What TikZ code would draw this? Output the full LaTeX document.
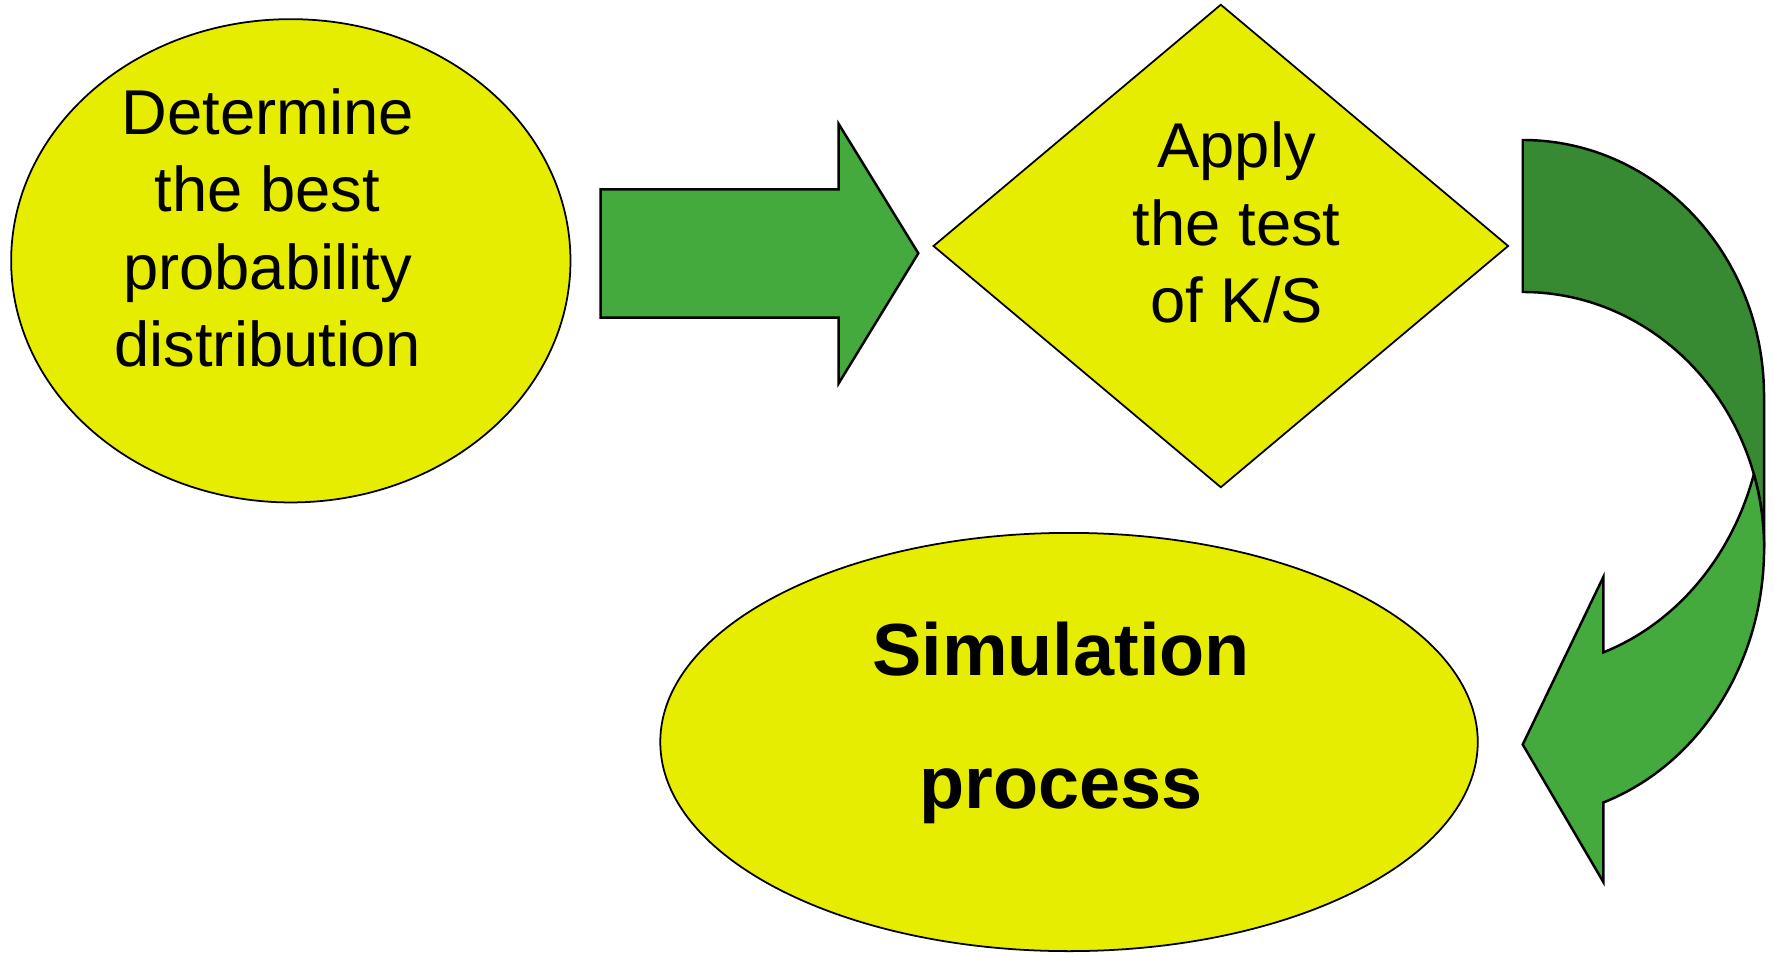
\documentclass[tikz,border=0pt]{standalone}
\usepackage{fontspec}
\setmainfont{Liberation Sans}
\usetikzlibrary{shapes.geometric}
\definecolor{blobyellow}{RGB}{230,237,0}
\definecolor{arrowgreen}{RGB}{69,170,61}
\definecolor{arrowdark}{RGB}{55,137,50}

\begin{document}
\begin{tikzpicture}[x=0.01cm,y=-0.01cm,
    blob/.style={ellipse,draw,line width=0.5pt,fill=blobyellow,inner sep=0pt},
    txt/.style={align=center,inner sep=0pt,font=\fontsize{18}{22}\selectfont}]
    \useasboundingbox (0,0) rectangle (1774,952);
    \node[blob,minimum width=5.59cm,minimum height=4.83cm] (dist) at (290.8,260.8) {};
    \node[txt] (distlabel) at (267.5,228) {Determine\\the best\\probability\\distribution};
    \draw[line width=0.7pt,fill=arrowgreen] (600.7,189.3) -- (838.7,189.3) -- (838.7,124) -- (918.3,253.3)
      -- (838.7,383.3) -- (838.7,317.7) -- (600.7,317.7) -- cycle;
    \node[diamond,draw,line width=0.5pt,fill=blobyellow,inner sep=0pt,minimum width=5.75cm,minimum height=4.83cm] (ks) at (1220.8,246) {};
    \node[txt] (kslabel) at (1236.7,222.5) {Apply\\the test\\of K/S};
    % curved arrow: back part first, front part over it
    \draw[line width=0.7pt,fill=arrowdark] (1522.7,140) arc[start angle=-90,end angle=0,x radius=241.3,y radius=256]
      -- (1764,548) arc[start angle=0,end angle=-90,x radius=241.3,y radius=256] -- cycle;
    \draw[line width=0.7pt,fill=arrowgreen] (1753.8,474.3) arc[start angle=16.73,end angle=70.5,x radius=241.3,y radius=272]
      -- (1603.3,577) -- (1522.7,744.5) -- (1603.3,882) -- (1603.3,802.5)
      arc[start angle=70.5,end angle=0,x radius=241.3,y radius=270]
      arc[start angle=0,end angle=-16.73,x radius=241.3,y radius=256] -- cycle;
    \node[blob,minimum width=8.17cm,minimum height=4.18cm] (sim) at (1069,742) {};
    \node[txt,font=\bfseries\fontsize{21}{38}\selectfont] (simlabel) at (1061,723) {Simulation\\process};
\end{tikzpicture}
\end{document}
